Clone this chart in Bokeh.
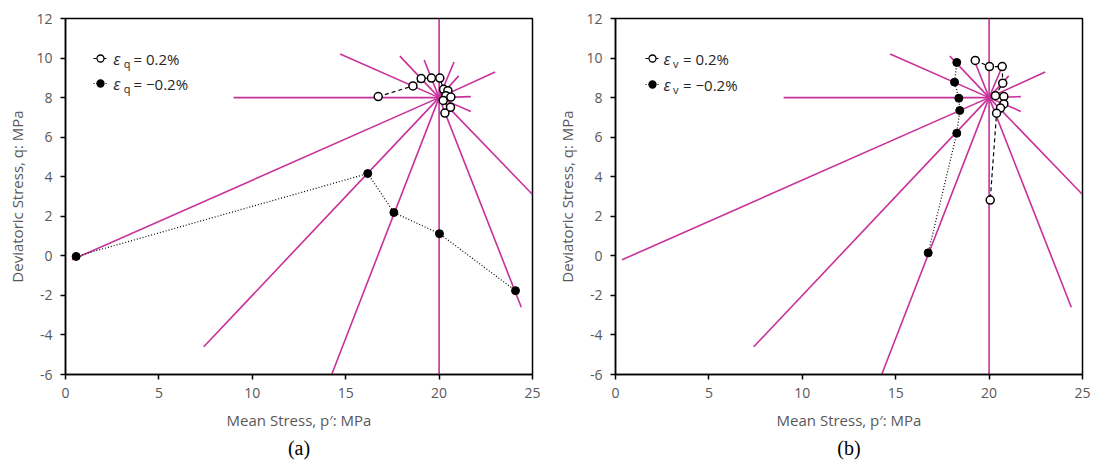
from bokeh.plotting import figure
from bokeh.models import Range1d, FixedTicker, Label, Title
from bokeh.layouts import row
from bokeh.embed import file_html
from bokeh.resources import INLINE

# ---- data -------------------------------------------------------------
# radial stress paths, all starting from the isotropic state p' = 20, q = 8 MPa
path_start_p = 20.0
path_start_q = 8.0
path_end_p = [0.35, 9.0, 14.7, 17.9, 19.2, 20.0, 20.8, 21.05, 23.0, 21.7, 21.7, 25.0, 24.4, 20.0, 14.25, 7.4]
path_end_q = [-0.2, 8.0, 10.2, 10.1, 9.9, 12.0, 9.8, 9.1, 9.3, 8.05, 7.3, 3.1, -2.6, -6.0, -6.0, -4.6]

# (a) stress states where the deviatoric strain reaches +/-0.2 %
a_pos_p = [16.74, 18.6, 19.04, 19.59, 20.04, 20.24, 20.47, 20.36, 20.63, 20.22, 20.61, 20.31]
a_pos_q = [8.05, 8.59, 8.96, 8.99, 8.99, 8.42, 8.35, 8.1, 8.03, 7.86, 7.51, 7.22]
a_neg_p = [0.57, 16.18, 17.58, 20.02, 24.09]
a_neg_q = [-0.03, 4.16, 2.19, 1.12, -1.76]

# (b) stress states where the volumetric strain reaches +/-0.2 %
b_pos_p = [19.26, 20.02, 20.7, 20.73, 20.34, 20.79, 20.79, 20.61, 20.4, 20.06]
b_pos_q = [9.88, 9.57, 9.57, 8.73, 8.1, 8.05, 7.68, 7.47, 7.21, 2.82]
b_neg_p = [18.27, 18.15, 18.38, 18.43, 18.27, 16.74]
b_neg_q = [9.78, 8.78, 7.97, 7.35, 6.2, 0.15]

x_ticks = [0, 5, 10, 15, 20, 25]
x_tick_labels = ["0", "5", "10", "15", "20", "25"]
y_ticks = [-6, -4, -2, 0, 2, 4, 6, 8, 10, 12]
y_tick_labels = ["-6", "-4", "-2", "0", "2", "4", "6", "8", "10", "12"]

x_title = "Mean Stress, p\u2032: MPa"
y_title = "Deviatoric Stress, q: MPa"

# ---- styling ----------------------------------------------------------
MAGENTA = "#C8319A"
GREY = "#595959"
FONT = "Open Sans"
FRAME_W, FRAME_H = 467, 356
X0, X1, Y0, Y1 = 0, 25, -6, 12
SX = FRAME_W / (X1 - X0)
SY = FRAME_H / (Y1 - Y0)


def make_panel(left, top, right, sym, pos_p, pos_q, neg_p, neg_q, caption, leg):
    bottom = 465 - top - FRAME_H
    p = figure(frame_width=FRAME_W, frame_height=FRAME_H,
               x_range=Range1d(X0, X1), y_range=Range1d(Y0, Y1),
               min_border_left=left, min_border_right=right,
               min_border_top=top, min_border_bottom=bottom,
               output_backend="svg", toolbar_location=None,
               background_fill_color="white", border_fill_color="white")
    p.grid.visible = False
    p.outline_line_color = "black"
    p.outline_line_width = 1.5

    for ax, ticks, labels, title in ((p.xaxis[0], x_ticks, x_tick_labels, x_title),
                                     (p.yaxis[0], y_ticks, y_tick_labels, y_title)):
        ax.ticker = FixedTicker(ticks=ticks)
        ax.major_label_overrides = {t: s for t, s in zip(ticks, labels)}
        ax.axis_line_color = "black"
        ax.axis_line_width = 1.5
        ax.major_tick_line_color = "black"
        ax.major_tick_line_width = 1.5
        ax.major_tick_out = 5
        ax.major_tick_in = 0
        ax.minor_tick_line_color = None
        ax.major_label_text_font = FONT
        ax.major_label_text_font_size = "14px"
        ax.major_label_text_color = GREY
        ax.major_label_standoff = 8
        ax.axis_label = title
        ax.axis_label_text_font = FONT
        ax.axis_label_text_font_size = "15px"
        ax.axis_label_text_font_style = "normal"
        ax.axis_label_text_color = GREY
    p.xaxis[0].axis_label_standoff = 9
    p.yaxis[0].axis_label_standoff = 6

    def dx(cx):
        return X0 + (cx - left) / SX

    def dy(cy):
        return Y1 - (cy - top) / SY

    def lab(x, y, text, size="15px", style="normal", color="#262626"):
        p.add_layout(Label(x=x, y=y, text=text, text_font=FONT,
                           text_font_size=size, text_font_style=style,
                           text_align="left", text_baseline="middle",
                           text_color=color))

    # radial stress paths
    for ep, eq in zip(path_end_p, path_end_q):
        p.line([path_start_p, ep], [path_start_q, eq], line_color=MAGENTA, line_width=1.6)

    # +0.2 % and -0.2 % strain contours
    p.line(pos_p, pos_q, line_color="black", line_width=1.2, line_dash="4 3")
    p.line(neg_p, neg_q, line_color="black", line_width=1.2, line_dash="1 2")
    p.scatter(pos_p, pos_q, size=8, marker="circle", fill_color="white",
              line_color="black", line_width=1.5)
    p.scatter(neg_p, neg_q, size=8, marker="circle", fill_color="black",
              line_color="black", line_width=1)

    # legend with subscripted strain symbols
    mx, my1, my2, off_eps, off_sub, off_eq = leg
    for my, dash, fill, txt in ((my1, "3 2", "white", "= 0.2%"),
                                (my2, "1 2", "black", "= \u22120.2%")):
        p.line([dx(mx - 7), dx(mx + 7)], [dy(my), dy(my)], line_color="black",
               line_width=1.2, line_dash=dash)
        p.scatter([dx(mx)], [dy(my)], size=7, marker="circle", fill_color=fill,
                  line_color="black", line_width=1.3)
        lab(dx(mx + off_eps), dy(my), "\u03b5", size="16px", style="italic")
        lab(dx(mx + off_sub), dy(my + 5), sym, size="11px")
        lab(dx(mx + off_eq), dy(my), txt, size="15px")

    # panel caption
    p.add_layout(Title(text=caption, align="center", text_font="Liberation Serif",
                       text_font_size="20px", text_font_style="normal",
                       text_color="black", standoff=4), "below")
    return p


pa = make_panel(65, 15, 16, "q", a_pos_p, a_pos_q, a_neg_p, a_neg_q, "(a)",
                (100, 55, 80, 12.7, 23.3, 33.0))
pb = make_panel(67, 18, 14, "v", b_pos_p, b_pos_q, b_neg_p, b_neg_q, "(b)",
                (104, 58, 84, 11.0, 20.6, 30.5))

layout = row(pa, pb)
open("out.html", "w").write(file_html(layout, INLINE))
